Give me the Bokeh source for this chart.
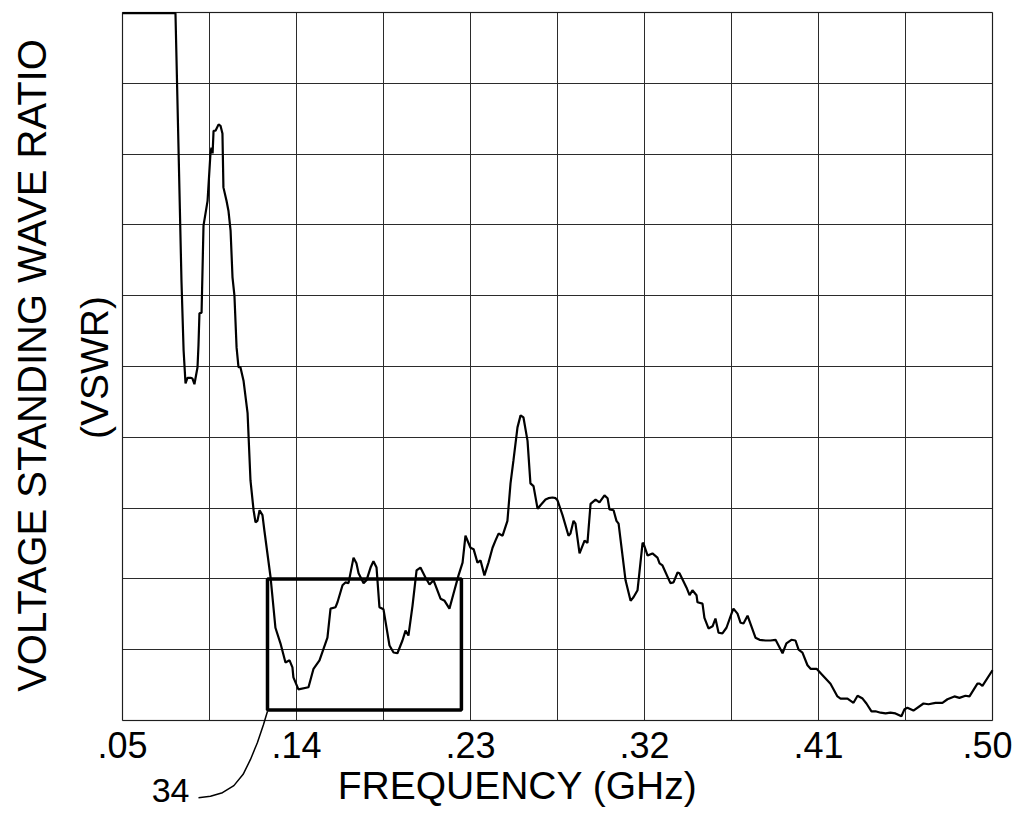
import math
from bokeh.plotting import figure
from bokeh.models import FixedTicker, Label, Range1d, LinearAxis, Grid, BoxAnnotation
from bokeh.embed import file_html
from bokeh.resources import INLINE

# ---- data (frequency in GHz, VSWR in chart divisions 0..10) ----
freq_ghz = [
    0.0500, 0.0774, 0.0790, 0.0805, 0.0816, 0.0826, 0.0836, 0.0852, 0.0862, 0.0872,
    0.0888, 0.0893, 0.0898, 0.0909, 0.0919, 0.0940, 0.0955, 0.0960, 0.0966, 0.0971,
    0.0981, 0.0997, 0.1007, 0.1017, 0.1022, 0.1038, 0.1048, 0.1059, 0.1069, 0.1079,
    0.1090, 0.1100, 0.1110, 0.1126, 0.1147, 0.1162, 0.1178, 0.1188, 0.1198, 0.1209,
    0.1224, 0.1234, 0.1266, 0.1291, 0.1317, 0.1343, 0.1364, 0.1379, 0.1384, 0.1410,
    0.1462, 0.1488, 0.1519, 0.1560, 0.1576, 0.1602, 0.1612, 0.1638, 0.1653, 0.1669,
    0.1695, 0.1710, 0.1721, 0.1747, 0.1762, 0.1783, 0.1798, 0.1814, 0.1829, 0.1850,
    0.1881, 0.1902, 0.1922, 0.1948, 0.1964, 0.1979, 0.2000, 0.2021, 0.2041, 0.2067,
    0.2088, 0.2109, 0.2145, 0.2166, 0.2191, 0.2212, 0.2238, 0.2259, 0.2274, 0.2300,
    0.2316, 0.2336, 0.2352, 0.2372, 0.2393, 0.2414, 0.2429, 0.2445, 0.2466, 0.2491,
    0.2507, 0.2522, 0.2543, 0.2559, 0.2574, 0.2595, 0.2610, 0.2626, 0.2647, 0.2662,
    0.2688, 0.2703, 0.2724, 0.2740, 0.2750, 0.2776, 0.2807, 0.2817, 0.2833, 0.2843,
    0.2864, 0.2890, 0.2905, 0.2921, 0.2947, 0.2967, 0.2993, 0.3009, 0.3019, 0.3040,
    0.3055, 0.3066, 0.3102, 0.3128, 0.3143, 0.3164, 0.3190, 0.3195, 0.3216, 0.3241,
    0.3267, 0.3278, 0.3293, 0.3334, 0.3350, 0.3371, 0.3381, 0.3417, 0.3433, 0.3448,
    0.3469, 0.3474, 0.3500, 0.3510, 0.3531, 0.3552, 0.3567, 0.3583, 0.3603, 0.3624,
    0.3650, 0.3660, 0.3681, 0.3697, 0.3712, 0.3733, 0.3774, 0.3795, 0.3826, 0.3852,
    0.3878, 0.3914, 0.3934, 0.3960, 0.3981, 0.3997, 0.4017, 0.4043, 0.4059, 0.4090,
    0.4121, 0.4162, 0.4198, 0.4214, 0.4250, 0.4281, 0.4302, 0.4328, 0.4348, 0.4374,
    0.4395, 0.4421, 0.4447, 0.4472, 0.4498, 0.4529, 0.4545, 0.4560, 0.4591, 0.4643,
    0.4669, 0.4705, 0.4741, 0.4767, 0.4803, 0.4829, 0.4860, 0.4881, 0.4922, 0.4933,
    0.4948, 0.5000,
]
vswr_div = [
    9.99, 9.99, 8.05, 6.21, 5.23, 4.76, 4.84, 4.84, 4.83, 4.75,
    4.99, 5.30, 5.75, 5.76, 6.99, 7.34, 8.01, 8.09, 8.01, 8.33,
    8.33, 8.42, 8.40, 8.29, 7.53, 7.34, 7.20, 6.92, 6.26, 6.00,
    5.27, 4.99, 4.99, 4.80, 4.34, 3.39, 2.97, 2.80, 2.82, 2.97,
    2.90, 2.68, 2.02, 1.31, 1.09, 0.82, 0.85, 0.75, 0.61, 0.44,
    0.47, 0.73, 0.85, 1.17, 1.58, 1.60, 1.67, 1.91, 1.95, 1.94,
    2.30, 2.22, 2.08, 1.94, 1.98, 2.16, 2.25, 2.16, 1.60, 1.57,
    1.06, 0.96, 0.95, 1.13, 1.27, 1.20, 1.62, 2.12, 2.16, 2.02,
    1.92, 1.98, 1.72, 1.69, 1.58, 1.79, 2.05, 2.23, 2.61, 2.44,
    2.42, 2.23, 2.26, 2.05, 2.23, 2.44, 2.54, 2.64, 2.61, 2.82,
    3.35, 3.67, 4.14, 4.31, 4.28, 3.95, 3.35, 3.31, 2.99, 3.04,
    3.12, 3.14, 3.15, 3.14, 3.11, 2.90, 2.61, 2.64, 2.82, 2.78,
    2.36, 2.54, 2.51, 3.06, 3.12, 3.08, 3.18, 3.14, 2.98, 2.97,
    2.82, 2.78, 1.98, 1.69, 1.74, 1.84, 2.51, 2.50, 2.33, 2.36,
    2.30, 2.22, 2.19, 1.94, 1.95, 2.09, 2.08, 1.88, 1.77, 1.84,
    1.77, 1.67, 1.65, 1.45, 1.30, 1.33, 1.44, 1.24, 1.23, 1.31,
    1.51, 1.58, 1.51, 1.38, 1.37, 1.48, 1.17, 1.14, 1.13, 1.13,
    1.14, 0.95, 1.09, 1.14, 1.13, 1.00, 0.96, 0.78, 0.73, 0.73,
    0.64, 0.52, 0.34, 0.31, 0.31, 0.25, 0.35, 0.31, 0.24, 0.13,
    0.13, 0.11, 0.10, 0.11, 0.10, 0.06, 0.16, 0.18, 0.14, 0.24,
    0.23, 0.25, 0.25, 0.30, 0.34, 0.32, 0.35, 0.34, 0.52, 0.52,
    0.49, 0.71,
]

x_tick_values = [0.05, 0.14, 0.23, 0.32, 0.41, 0.50]
x_tick_labels = [".05", ".14", ".23", ".32", ".41", ".50"]
x_grid_values = [0.05, 0.095, 0.14, 0.185, 0.23, 0.275, 0.32, 0.365, 0.41, 0.455, 0.50]
y_grid_values = [0, 1, 2, 3, 4, 5, 6, 7, 8, 9, 10]
f_min, f_max = 0.05, 0.50
v_min, v_max = 0, 10

# highlighted region "34"
box_f_start, box_f_end = 0.125, 0.2253
box_v_low, box_v_high = 0.15, 2.00

# leader line from the box corner to the "34" reference numeral
leader_f = [0.1250, 0.1229, 0.1198, 0.1162, 0.1124, 0.1076, 0.1017, 0.0955, 0.0893]
leader_v = [0.13, -0.06, -0.31, -0.55, -0.76, -0.92, -1.02, -1.07, -1.09]

FONT = "Liberation Sans"

# ---- layout: the plotting frame fills the canvas; the chart box sits inside it ----
W, H = 1012, 809
BOX_L, BOX_R, BOX_T, BOX_B = 122, 992, 12, 720   # chart box in canvas pixels
ux = (f_max - f_min) / (BOX_R - BOX_L)
uy = (v_max - v_min) / (BOX_B - BOX_T)
x_rng = Range1d(f_min - BOX_L * ux, f_max + (W - BOX_R) * ux)
y_rng = Range1d(v_min - (H - BOX_B) * uy, v_max + BOX_T * uy)

p = figure(
    width=W, height=H, x_range=x_rng, y_range=y_rng,
    x_axis_location=None, y_axis_location=None, title=None,
    output_backend="svg", toolbar_location=None, min_border=0,
)
p.center = [r for r in p.center if not isinstance(r, Grid)]
p.background_fill_color = "white"
p.border_fill_color = "white"
p.outline_line_color = None

GRID_COLOR = "#2b2b2b"
if "cross_bounds" in Grid.properties():
    p.add_layout(Grid(dimension=0, ticker=FixedTicker(ticks=x_grid_values),
                      bounds=(f_min, f_max), cross_bounds=(v_min, v_max),
                      grid_line_color=GRID_COLOR, grid_line_width=1))
    p.add_layout(Grid(dimension=1, ticker=FixedTicker(ticks=y_grid_values),
                      bounds=(v_min, v_max), cross_bounds=(f_min, f_max),
                      grid_line_color=GRID_COLOR, grid_line_width=1))
else:
    p.segment(x0=x_grid_values, y0=[v_min] * len(x_grid_values),
              x1=x_grid_values, y1=[v_max] * len(x_grid_values),
              line_color=GRID_COLOR, line_width=1)
    p.segment(x0=[f_min] * len(y_grid_values), y0=y_grid_values,
              x1=[f_max] * len(y_grid_values), y1=y_grid_values,
              line_color=GRID_COLOR, line_width=1)

# chart border
p.add_layout(BoxAnnotation(left=f_min, right=f_max, bottom=v_min, top=v_max,
                           fill_color=None, line_color="black", line_width=1.5))

# frequency axis, pinned to the bottom edge of the chart box
xa = LinearAxis(fixed_location=v_min, bounds=(f_min, f_max),
                ticker=FixedTicker(ticks=x_tick_values))
xa.major_label_overrides = {v: s for v, s in zip(x_tick_values, x_tick_labels)}
xa.major_label_text_font = FONT
xa.major_label_text_font_size = "36px"
xa.major_label_text_color = "black"
xa.major_label_standoff = 5
xa.major_tick_line_color = None
xa.minor_tick_line_color = None
xa.axis_line_color = None
p.add_layout(xa, "below")

# curve
p.line(freq_ghz, vswr_div, line_color="black", line_width=2.2)

# box 34 and its leader line
p.quad(left=[box_f_start], right=[box_f_end], bottom=[box_v_low], top=[box_v_high],
       fill_color=None, line_color="black", line_width=3.5)
p.line(leader_f, leader_v, line_color="black", line_width=1.5)

def lab(text, sx, sy, size, align="center", baseline="middle", angle=0.0):
    # sx, sy: canvas pixels from the top-left corner
    p.add_layout(Label(x=sx, y=H - sy, x_units="screen", y_units="screen", text=text,
                       text_font=FONT, text_font_size=size, text_align=align,
                       text_baseline=baseline, text_color="black", angle=angle))

lab("VOLTAGE STANDING WAVE RATIO", 31, 365, "40px", angle=math.pi / 2)
lab("(VSWR)", 94, 367, "39px", angle=math.pi / 2)
lab("FREQUENCY (GHz)", 517, 785, "39px")
lab("34", 189, 790, "34px", align="right")
lab("FIG. 4", 415, 802, "66px", align="left", baseline="top")

open("out.html", "w").write(file_html(p, INLINE))
